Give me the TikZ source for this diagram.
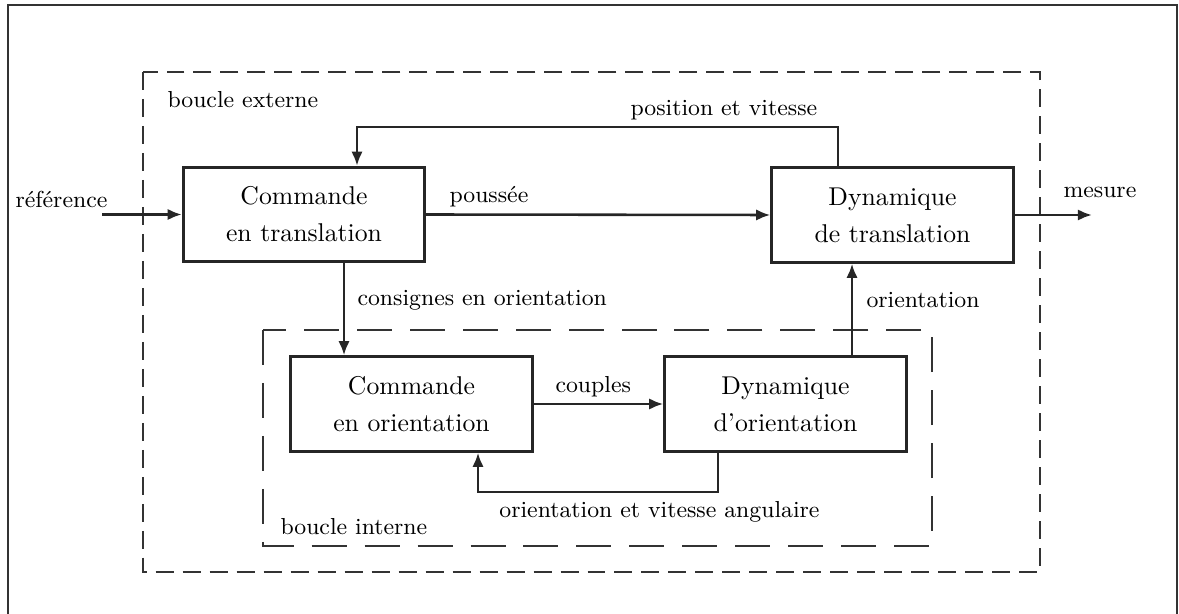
\documentclass[tikz,border=0pt]{standalone}
\usetikzlibrary{arrows.meta}
\begin{document}
\begin{tikzpicture}[x=0.3891pt,y=-0.3891pt,
  blockbox/.style={draw=black!85,line width=1.1pt,minimum width=94pt,minimum height=36.8pt,
    inner sep=0pt,align=center,font=\fontsize{10}{14.4}\selectfont},
  lbl/.style={inner sep=0pt,font=\small},
  arr/.style={draw=black!85,line width=1pt,-{Latex[length=5.5pt,width=4.4pt]}},
  outerloop/.style={draw=black!80,line width=1.1pt,dash pattern=on 7pt off 3.5pt},
  innerloop/.style={draw=black!80,line width=1.1pt,dash pattern=on 13.6pt off 7pt}]
\clip (0,0) rectangle (1179,614);
% page frame
\draw[black!80,line width=1pt] (8,5) rectangle (1177,640);

% loop boundaries
\draw[outerloop] (143,72) rectangle (1040,572);
\draw[innerloop] (263,330) rectangle (932,546);
\node[lbl,anchor=west] (lext) at (167,100) {boucle externe};
\node[lbl,anchor=west] (lint) at (280,527) {boucle interne};

% blocks
\node[blockbox] (ct) at (304,214.5) {Commande\\en translation};
\node[blockbox] (dt) at (892.5,215) {Dynamique\\de translation};
\node[blockbox] (co) at (411.5,404) {Commande\\en orientation};
\node[blockbox] (do) at (785.5,404) {Dynamique\\d'orientation};

% routing points
\coordinate (refin) at (102,214.5);
\coordinate (mesout) at (1092,215);
\coordinate (pvA) at (838,127);
\coordinate (pvB) at (357,127);
\coordinate (cx) at (344,0);
\coordinate (ox) at (852,0);
\coordinate (ovA) at (718,492);
\coordinate (ovB) at (478,492);

% connectors
\draw[arr] (refin) -- (ct.west);
\draw[arr] (ct.east) -- (dt.west);
\draw[arr] (dt.east) -- (mesout);
\draw[arr] (pvA |- dt.north) -- (pvA) -- (pvB) -- (pvB |- ct.north);
\draw[arr] (cx |- ct.south) -- (cx |- co.north);
\draw[arr] (co.east) -- (do.west);
\draw[arr] (ox |- do.north) -- (ox |- dt.south);
\draw[arr] (ovA |- do.south) -- (ovA) -- (ovB) -- (ovB |- co.south);

% signal labels
\node[lbl,anchor=west] (lref) at (15,199) {référence};
\node[lbl,anchor=west] (lpou) at (449,197) {poussée};
\node[lbl,anchor=west] (lpv) at (630,110) {position et vitesse};
\node[lbl,anchor=west] (lmes) at (1063,192) {mesure};
\node[lbl,anchor=west] (lcons) at (357,300) {consignes en orientation};
\node[lbl,anchor=west] (lori) at (866,300) {orientation};
\node[lbl,anchor=west] (lcoup) at (555,387) {couples};
\node[lbl,anchor=east] (lova) at (820,512) {orientation et vitesse angulaire};
\end{tikzpicture}
\end{document}
